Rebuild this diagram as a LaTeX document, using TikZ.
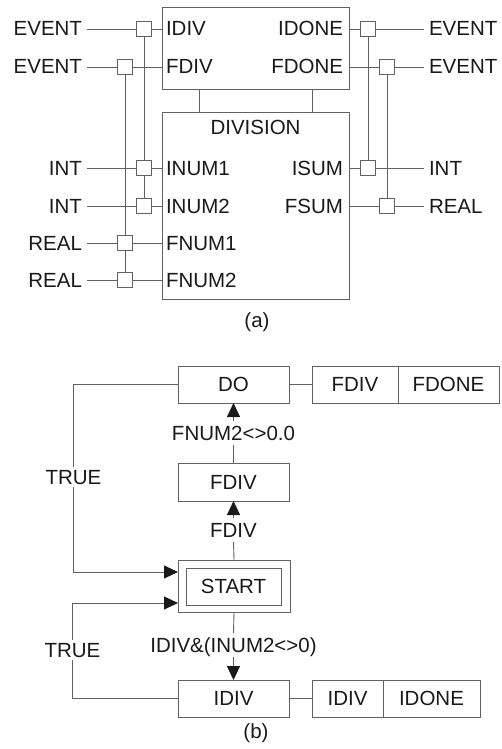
\documentclass[tikz,border=0pt]{standalone}
\usepackage{fontspec}
\setmainfont{Liberation Sans}
\usetikzlibrary{arrows.meta}
\definecolor{ln}{gray}{0.38}
\definecolor{tx}{gray}{0.1}
\begin{document}
\begin{tikzpicture}[x=1pt,y=-1pt,
  every node/.style={font=\fontsize{20.5}{24}\selectfont, text=tx},
  box/.style={draw=ln, line width=0.9pt, inner sep=0pt, outer sep=0pt},
  port/.style={draw=ln, fill=white, line width=0.9pt, minimum size=15pt, inner sep=0pt, outer sep=0pt},
  lab/.style={inner xsep=3pt, inner ysep=0pt, text height=14pt, text depth=0pt, outer sep=0pt},
  ext/.style={lab, inner xsep=5pt},
  cond/.style={inner xsep=2pt, inner ysep=5pt, text height=14pt, text depth=0pt, outer sep=0pt},
  wire/.style={draw=ln, line width=0.9pt},
  arr/.style={wire, -{Triangle[length=14pt,width=13pt,color=tx]}}
]
\useasboundingbox (0,0) rectangle (501,749);

% ---------------- (a) ----------------
\node[box, minimum width=187pt, minimum height=82pt] (top) at (255.5,48) {};
\node[box, minimum width=187pt, minimum height=187pt] (div) at (255.5,205.5) {};
\draw[wire] ([xshift=-56.5pt]top.south) -- ([xshift=-56.5pt]div.north);
\draw[wire] ([xshift=56.5pt]top.south) -- ([xshift=56.5pt]div.north);

\node[lab] (divt) at (255.5,128) {DIVISION};
\node[lab, anchor=west] (pIDIV) at (163,29) {IDIV};
\node[lab, anchor=west] (pFDIV) at (163,67) {FDIV};
\node[lab, anchor=west] (pINUM1) at (163,168) {INUM1};
\node[lab, anchor=west] (pINUM2) at (163,206) {INUM2};
\node[lab, anchor=west] (pFNUM1) at (163,243) {FNUM1};
\node[lab, anchor=west] (pFNUM2) at (163,280) {FNUM2};
\node[lab, anchor=east] (pIDONE) at (346,29) {IDONE};
\node[lab, anchor=east] (pFDONE) at (346,67) {FDONE};
\node[lab, anchor=east] (pISUM) at (346,168) {ISUM};
\node[lab, anchor=east] (pFSUM) at (346,206) {FSUM};

\node[ext, anchor=east] (eIDIV) at (87,29) {EVENT};
\node[ext, anchor=east] (eFDIV) at (87,67) {EVENT};
\node[ext, anchor=east] (eINUM1) at (87,168) {INT};
\node[ext, anchor=east] (eINUM2) at (87,206) {INT};
\node[ext, anchor=east] (eFNUM1) at (87,243) {REAL};
\node[ext, anchor=east] (eFNUM2) at (87,280) {REAL};
\node[ext, anchor=west] (eIDONE) at (424,29) {EVENT};
\node[ext, anchor=west] (eFDONE) at (424,67) {EVENT};
\node[ext, anchor=west] (eISUM) at (424,168) {INT};
\node[ext, anchor=west] (eFSUM) at (424,206) {REAL};

\node[port] (sIDIV) at (144,29) {};
\node[port] (sFDIV) at (125,67) {};
\node[port] (sINUM1) at (144,168) {};
\node[port] (sINUM2) at (144,206) {};
\node[port] (sFNUM1) at (125,243) {};
\node[port] (sFNUM2) at (125,280) {};
\node[port] (sIDONE) at (368,29) {};
\node[port] (sFDONE) at (387,67) {};
\node[port] (sISUM) at (368,168) {};
\node[port] (sFSUM) at (387,206) {};

\foreach \n in {IDIV,FDIV}{
  \draw[wire] (e\n.east) -- (s\n.west);
  \draw[wire] (s\n.east) -- (s\n -| top.west);
}
\foreach \n in {INUM1,INUM2,FNUM1,FNUM2}{
  \draw[wire] (e\n.east) -- (s\n.west);
  \draw[wire] (s\n.east) -- (s\n -| div.west);
}
\foreach \n in {IDONE,FDONE}{
  \draw[wire] (s\n -| top.east) -- (s\n.west);
  \draw[wire] (s\n.east) -- (e\n.west);
}
\foreach \n in {ISUM,FSUM}{
  \draw[wire] (s\n -| div.east) -- (s\n.west);
  \draw[wire] (s\n.east) -- (e\n.west);
}
\draw[wire] (sIDIV.south) -- (sINUM1.north);
\draw[wire] (sINUM1.south) -- (sINUM2.north);
\draw[wire] (sFDIV.south) -- (sFNUM1.north);
\draw[wire] (sFNUM1.south) -- (sFNUM2.north);
\draw[wire] (sIDONE.south) -- (sISUM.north);
\draw[wire] (sFDONE.south) -- (sFSUM.north);

\node (capa) at (257,322) {(a)};

% ---------------- (b) ----------------
\node[box, minimum width=111pt, minimum height=37pt] (do) at (233.5,384.5) {DO};
\node[box, minimum width=86pt, minimum height=37pt] (dof) at (355,384.5) {FDIV};
\node[box, minimum width=101pt, minimum height=37pt, anchor=west] (dofd) at (dof.east) {FDONE};
\draw[wire] (do.east) -- (dof.west);

\node[cond] (c1) at (233.5,433) {FNUM2<>0.0};
\node[box, minimum width=111pt, minimum height=38pt] (fdiv) at (233.5,482) {FDIV};
\node[cond] (c2) at (233.5,530) {FDIV};
\node[box, minimum width=112pt, minimum height=52pt] (start) at (234,586) {};
\node[box, minimum width=95pt, minimum height=37pt] (startin) at (233.5,586.5) {START};
\node[cond] (c3) at (233.5,645) {IDIV\&(INUM2<>0)};
\node[box, minimum width=111pt, minimum height=37pt] (idiv) at (233.5,698.5) {IDIV};
\node[box, minimum width=71pt, minimum height=37pt] (idivf) at (347.5,698.5) {IDIV};
\node[box, minimum width=97pt, minimum height=37pt, anchor=west] (idivd) at (idivf.east) {IDONE};
\draw[wire] (idiv.east) -- (idivf.west);

\draw[arr] (c1.north) -- (do.south);
\draw[wire] (fdiv.north) -- (c1.south);
\draw[arr] (c2.north) -- (fdiv.south);
\draw[wire] (start.north) -- (c2.south);
\draw[wire] (start.south) -- (c3.north);
\draw[arr] (c3.south) -- (idiv.north);

\coordinate (l1) at (73,0);
\coordinate (l2) at (72,0);
\draw[arr] (do.west) -- (do.west -| l1) |- ([yshift=14pt]start.west);
\draw[arr] (idiv.west) -- (idiv.west -| l2) |- ([yshift=-17pt]start.west);
\node[lab, fill=white, inner ysep=3pt] (t1) at (73.5,477) {TRUE};
\node[lab, fill=white, inner ysep=3pt] (t2) at (72.5,650) {TRUE};

\node (capb) at (256,733) {(b)};
\end{tikzpicture}
\end{document}
